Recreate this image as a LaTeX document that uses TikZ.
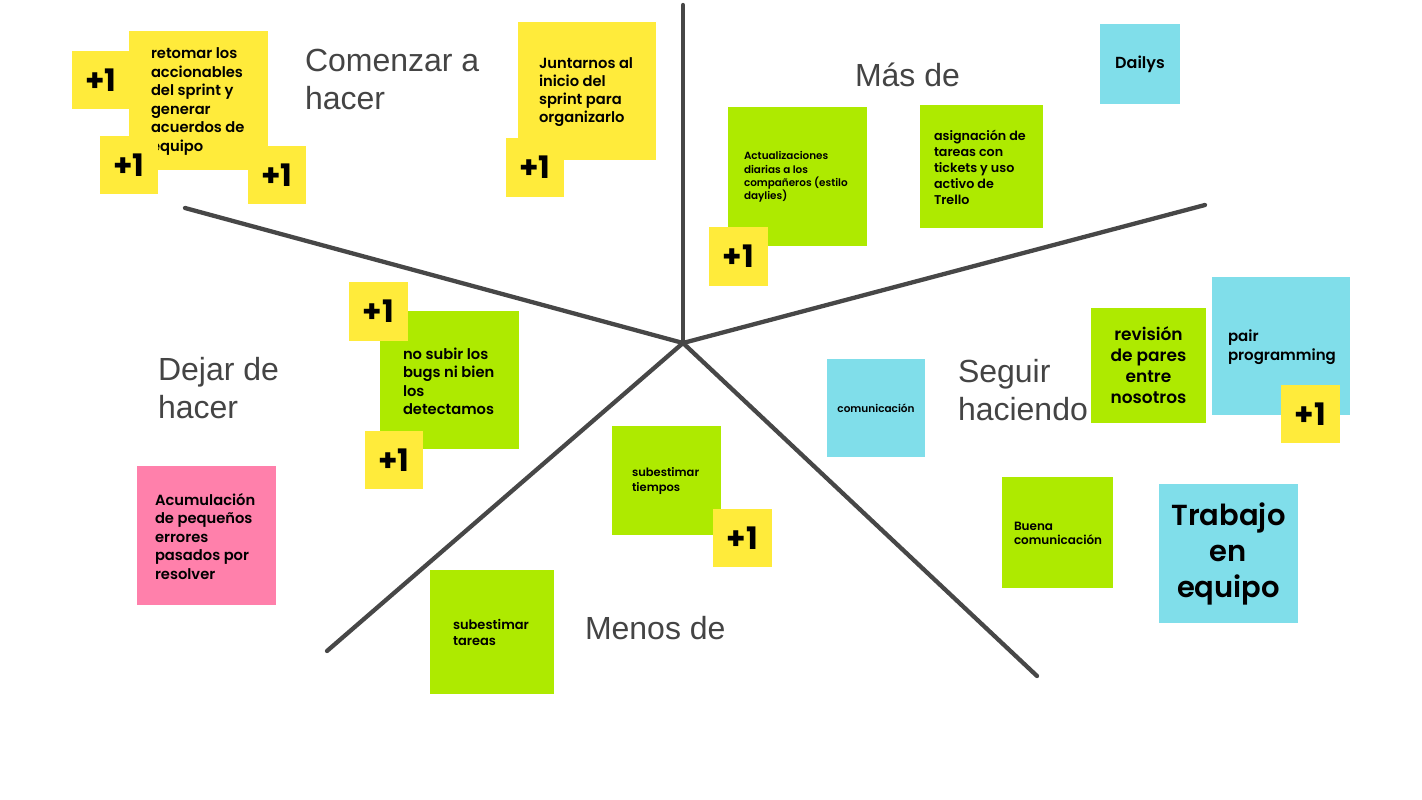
\documentclass[tikz,border=0pt]{standalone}
\usepackage{fontspec}
\newfontfamily\notefont{Poppins}[BoldFont={Poppins SemiBold}]
\newfontfamily\plusfont{Poppins}
\newfontfamily\lblfont{Liberation Sans}
\definecolor{syellow}{HTML}{FFEB3B}
\definecolor{sgreen}{HTML}{AEEA00}
\definecolor{sblue}{HTML}{80DEEA}
\definecolor{spink}{HTML}{FF80AB}
\definecolor{barcol}{HTML}{474747}
\definecolor{lblcol}{HTML}{444444}
\begin{document}
\begin{tikzpicture}[x=1pt,y=-1pt,
  bar/.style={draw=barcol,line width=4.3pt,line cap=round},
  box/.style={draw=none,inner sep=0pt,outer sep=0pt,anchor=north west},
  ynote/.style={box,fill=syellow},
  gnote/.style={box,fill=sgreen},
  bnote/.style={box,fill=sblue},
  pnote/.style={box,fill=spink},
  plusone/.style={box,fill=syellow,minimum width=58pt,minimum height=58pt,
    font=\plusfont\bfseries\fontsize{31}{31}\selectfont},
  ntext/.style={inner sep=0pt,outer sep=0pt,align=left,anchor=west,text=black},
  ctext/.style={inner sep=0pt,outer sep=0pt,align=center,anchor=center,text=black},
  lbl/.style={inner sep=0pt,outer sep=0pt,anchor=base west,text=lblcol,
    font=\lblfont\fontsize{32}{38}\selectfont}
]
\useasboundingbox (0,0) rectangle (1422,800);
\fill[white] (0,0) rectangle (1422,800);

% axes
\coordinate (c) at (683,343);
\coordinate (eTop) at (683,5);
\coordinate (eUL) at (185,208);
\coordinate (eUR) at (1205,205);
\coordinate (eLL) at (327,651);
\coordinate (eLR) at (1037,676);
\draw[bar] (c) -- (eTop);
\draw[bar] (c) -- (eUL);
\draw[bar] (c) -- (eUR);
\draw[bar] (c) -- (eLL);
\draw[bar] (c) -- (eLR);

% labels
\node[lbl] (lComA) at (305,71) {Comenzar a};
\node[lbl] (lComB) at (305,109) {hacer};
\node[lbl] (lMas) at (855,87) {Más de};
\node[lbl] (lDejA) at (158,380) {Dejar de};
\node[lbl] (lDejB) at (158,418) {hacer};
\node[lbl] (lSegA) at (958,382) {Seguir};
\node[lbl] (lSegB) at (958,420) {haciendo};
\node[lbl] (lMen) at (585,639) {Menos de};

% Comenzar a hacer
\node[plusone] (p1) at (72,51) {+1};
\node[ynote,minimum width=139pt,minimum height=139pt] (nRet) at (129,31) {};
\node[ntext,font=\notefont\bfseries\fontsize{14.7}{18.5}\selectfont] (tRet) at (151,101.5)
  {retomar los\\accionables\\del sprint y\\generar\\acuerdos de\\equipo};
\node[plusone] (p2) at (100,136) {+1};
\node[plusone] (p3) at (248,146) {+1};

\node[ynote,minimum width=138pt,minimum height=138pt] (nJun) at (518,22) {};
\node[ntext,font=\notefont\bfseries\fontsize{14.7}{18}\selectfont] (tJun) at (539,92)
  {Juntarnos al\\inicio del\\sprint para\\organizarlo};
\node[plusone,minimum height=59pt] (p4) at (506,138) {+1};

% Mas de
\node[gnote,minimum width=139pt,minimum height=139pt] (nAct) at (728,107) {};
\node[ntext,font=\notefont\bfseries\fontsize{10.4}{13.3}\selectfont] (tAct) at (744,177)
  {Actualizaciones\\diarias a los\\compañeros (estilo\\daylies)};
\node[plusone,minimum width=59pt,minimum height=59pt] (p5) at (709,227) {+1};

\node[gnote,minimum width=123pt,minimum height=123pt] (nAsi) at (920,105) {};
\node[ntext,font=\notefont\bfseries\fontsize{12.7}{16}\selectfont] (tAsi) at (934,167)
  {asignación de\\tareas con\\tickets y uso\\activo de\\Trello};

\node[bnote,minimum width=80pt,minimum height=80pt] (nDai) at (1100,24) {};
\node[ctext,font=\notefont\bfseries\fontsize{16}{19}\selectfont] (tDai) at (nDai.center) {Dailys};

% Dejar de hacer
\node[gnote,minimum width=139pt,minimum height=138pt] (nBug) at (380,311) {};
\node[ntext,font=\notefont\bfseries\fontsize{14.7}{18.5}\selectfont] (tBug) at (403,381.5)
  {no subir los\\bugs ni bien\\los\\detectamos};
\node[plusone,minimum width=59pt,minimum height=59pt] (p6) at (349,282) {+1};
\node[plusone] (p7) at (365,431) {+1};

\node[pnote,minimum width=139pt,minimum height=139pt] (nAcu) at (137,466) {};
\node[ntext,font=\notefont\bfseries\fontsize{14.7}{18.5}\selectfont] (tAcu) at (155,536.5)
  {Acumulación\\de pequeños\\errores\\pasados por\\resolver};

% Menos de
\node[gnote,minimum width=109pt,minimum height=109pt] (nTie) at (612,426) {};
\node[ntext,font=\notefont\bfseries\fontsize{11.5}{15}\selectfont] (tTie) at (632,481)
  {subestimar\\tiempos};
\node[plusone,minimum width=59pt] (p8) at (713,509) {+1};

\node[gnote,minimum width=124pt,minimum height=124pt] (nTar) at (430,570) {};
\node[ntext,font=\notefont\bfseries\fontsize{13}{16}\selectfont] (tTar) at (453,632.5)
  {subestimar\\tareas};

% Seguir haciendo
\node[bnote,minimum width=98pt,minimum height=98pt] (nCom) at (827,359) {};
\node[ctext,font=\notefont\bfseries\fontsize{10.5}{13}\selectfont] (tCom) at (nCom.center) {comunicación};

\node[gnote,minimum width=115pt,minimum height=115pt] (nRev) at (1091,308) {};
\node[ctext,font=\notefont\bfseries\fontsize{17}{21}\selectfont] (tRev) at (nRev.center)
  {revisión\\de pares\\entre\\nosotros};

\node[bnote,minimum width=138pt,minimum height=138pt] (nPai) at (1212,277) {};
\node[ntext,font=\notefont\bfseries\fontsize{15}{19}\selectfont] (tPai) at (1228,347.5)
  {pair\\programming};
\node[plusone,minimum width=59pt] (p9) at (1281,385) {+1};

\node[gnote,minimum width=111pt,minimum height=111pt] (nBue) at (1002,477) {};
\node[ntext,font=\notefont\bfseries\fontsize{12}{14.5}\selectfont] (tBue) at (1014,533.5)
  {Buena\\comunicación};

\node[bnote,minimum width=139pt,minimum height=139pt] (nTra) at (1159,484) {};
\node[ctext,font=\notefont\bfseries\fontsize{29}{36}\selectfont] (tTra) at (nTra.center)
  {Trabajo\\en\\equipo};
\end{tikzpicture}
\end{document}
